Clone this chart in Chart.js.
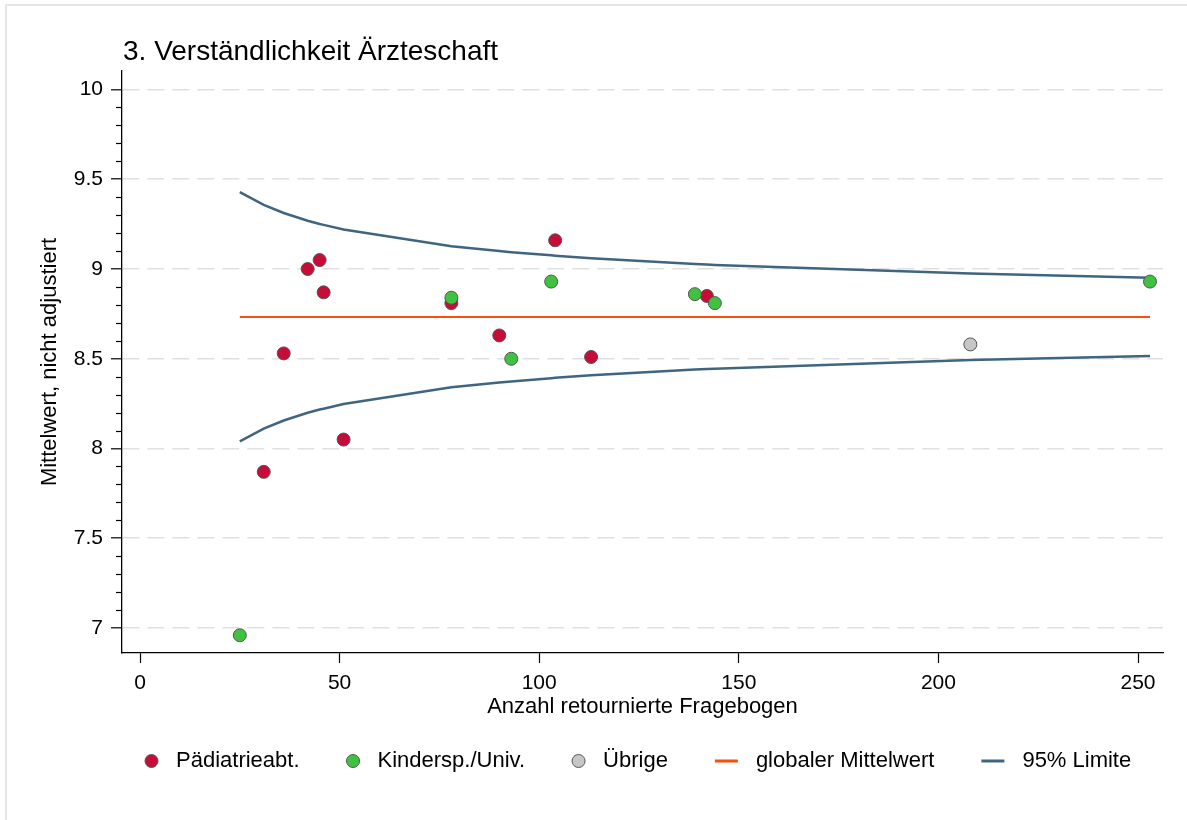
<!DOCTYPE html>
<html lang="de">
<head>
<meta charset="UTF-8">
<title>3. Verständlichkeit Ärzteschaft</title>
<script src="https://cdn.jsdelivr.net/npm/chart.js"></script>
<style>
  body { margin: 0; background: #fff; }
  #rahmen {
    position: absolute; left: 5px; top: 4px; width: 1200px; height: 830px;
    border-left: 2px solid #e6e6e6; border-top: 2px solid #e6e6e6;
  }
  #grafik { position: absolute; left: 0; top: 0; }
</style>
</head>
<body>
<div id="rahmen"></div>
<canvas id="grafik" width="1187" height="820"></canvas>
<script>
// Daten
const titel = '3. Verständlichkeit Ärzteschaft';

const nPaediatrie = [31, 36, 42, 45, 46, 51, 78, 90, 104, 113, 142];
const mwPaediatrie = [7.87, 8.53, 9.00, 9.05, 8.87, 8.05, 8.81, 8.63, 9.16, 8.51, 8.85];

const nKinderspital = [25, 78, 93, 103, 139, 144, 253];
const mwKinderspital = [6.96, 8.84, 8.50, 8.93, 8.86, 8.81, 8.93];

const nUebrige = [208];
const mwUebrige = [8.58];

const globalerMittelwert = 8.733;
const nBereich = [25, 253];

const nLimite = [25, 31, 36, 42, 45, 46, 51, 78, 90, 93, 103, 104, 113, 139, 142, 144, 208, 253];
const obereLimite = [9.428, 9.357, 9.312, 9.269, 9.251, 9.246, 9.220, 9.127, 9.100, 9.094, 9.076, 9.074,
    9.060, 9.028, 9.025, 9.023, 8.975, 8.952];
const untereLimite = [8.040, 8.111, 8.156, 8.199, 8.217, 8.222, 8.248, 8.341, 8.368, 8.374, 8.392, 8.394,
    8.408, 8.440, 8.443, 8.445, 8.493, 8.516];

const xTicks = [0, 50, 100, 150, 200, 250];
const yTicks = [7, 7.5, 8, 8.5, 9, 9.5, 10];

const schrift = "'Liberation Sans', Arial, sans-serif";

function punkte(xs, ys) {
    return xs.map((x, i) => ({ x: x, y: ys[i] }));
}

// Titel, Nebenstriche und Legende
const zusatz = {
    id: 'zusatz',
    afterDraw(chart) {
        const { ctx, chartArea, scales } = chart;
        ctx.save();

        // kleine Striche an der y-Achse
        ctx.strokeStyle = '#000';
        ctx.lineWidth = 1.2;
        for (let i = 71; i < 100; i++) {
            if (i % 5 === 0) continue;
            const y = Math.round(scales.y.getPixelForValue(i / 10)) + 0.5;
            ctx.beginPath();
            ctx.moveTo(chartArea.left - 6, y);
            ctx.lineTo(chartArea.left, y);
            ctx.stroke();
        }

        // Titel
        ctx.fillStyle = '#000';
        ctx.font = '28px ' + schrift;
        ctx.textAlign = 'left';
        ctx.textBaseline = 'alphabetic';
        ctx.fillText(titel, chartArea.left + 1, 60);

        // Legende
        ctx.font = '22px ' + schrift;
        ctx.textBaseline = 'middle';
        const yl = 761;
        let x = 145;
        chart.data.datasets.forEach(ds => {
            if (!ds.label) return;
            if (ds.showLine) {
                ctx.strokeStyle = ds.borderColor;
                ctx.lineWidth = 3;
                ctx.beginPath();
                ctx.moveTo(x, yl);
                ctx.lineTo(x + 23, yl);
                ctx.stroke();
                x += 23;
            } else {
                ctx.fillStyle = ds.backgroundColor;
                ctx.strokeStyle = '#555';
                ctx.lineWidth = 1;
                ctx.beginPath();
                ctx.arc(x + 6.5, yl, 6.5, 0, Math.PI * 2);
                ctx.fill();
                ctx.stroke();
                x += 13;
            }
            x += 18;
            ctx.fillStyle = '#000';
            ctx.fillText(ds.label, x, yl);
            x += ctx.measureText(ds.label).width + 47;
        });

        ctx.restore();
    }
};

const punktStil = {
    pointRadius: 6.5,
    pointHoverRadius: 6.5,
    borderColor: '#555',
    borderWidth: 1
};

new Chart(document.getElementById('grafik'), {
    type: 'scatter',
    data: {
        datasets: [
            Object.assign({ label: 'Pädiatrieabt.', data: punkte(nPaediatrie, mwPaediatrie),
                backgroundColor: '#c60c37', order: 2 }, punktStil),
            Object.assign({ label: 'Kindersp./Univ.', data: punkte(nKinderspital, mwKinderspital),
                backgroundColor: '#3fc23f', order: 0 }, punktStil),
            Object.assign({ label: 'Übrige', data: punkte(nUebrige, mwUebrige),
                backgroundColor: '#c6c6c6', order: 1 }, punktStil),
            {
                label: 'globaler Mittelwert',
                data: nBereich.map(n => ({ x: n, y: globalerMittelwert })),
                showLine: true, pointRadius: 0, borderColor: '#fb4d0d', borderWidth: 2, order: 3
            },
            {
                label: '95% Limite',
                data: punkte(nLimite, obereLimite),
                showLine: true, pointRadius: 0, borderColor: '#3f6581', borderWidth: 2.5, order: 4
            },
            {
                label: '',
                data: punkte(nLimite, untereLimite),
                showLine: true, pointRadius: 0, borderColor: '#3f6581', borderWidth: 2.5, order: 4
            }
        ]
    },
    options: {
        responsive: false,
        animation: false,
        layout: { padding: { left: 6, top: 71, right: 24, bottom: 97 } },
        plugins: {
            legend: { display: false },
            tooltip: { enabled: false },
            title: { display: false }
        },
        scales: {
            x: {
                type: 'linear',
                min: -4.51,
                max: 256.26,
                afterBuildTicks: s => { s.ticks = xTicks.map(v => ({ value: v })); },
                afterFit: s => { s.height = 70; },
                grid: { drawOnChartArea: false, drawTicks: true, tickLength: 10, tickColor: '#000', tickWidth: 1.2 },
                border: { display: true, color: '#000', width: 1.3 },
                ticks: {
                    color: '#000', padding: 8, maxRotation: 0,
                    font: { family: schrift, size: 21 },
                    callback: v => String(v)
                },
                title: {
                    display: true, text: 'Anzahl retournierte Fragebogen', color: '#000',
                    font: { family: schrift, size: 22 }, padding: { top: 0, bottom: 3 }
                }
            },
            y: {
                type: 'linear',
                min: 6.861,
                max: 10.103,
                afterBuildTicks: s => { s.ticks = yTicks.map(v => ({ value: v })); },
                afterFit: s => { s.width = 116; },
                grid: {
                    color: '#e0e0e0', lineWidth: 1.6, drawTicks: true, tickLength: 11,
                    tickColor: '#000', tickWidth: 1.2, tickBorderDash: []
                },
                border: { display: true, color: '#000', width: 1.3, dash: [17, 8] },
                ticks: {
                    color: '#000', padding: 8,
                    font: { family: schrift, size: 21 },
                    callback: v => String(v)
                },
                title: {
                    display: true, text: 'Mittelwert, nicht adjustiert', color: '#000',
                    font: { family: schrift, size: 22 }, padding: { top: 31, bottom: 0 }
                }
            }
        }
    },
    plugins: [zusatz]
});
</script>
</body>
</html>
